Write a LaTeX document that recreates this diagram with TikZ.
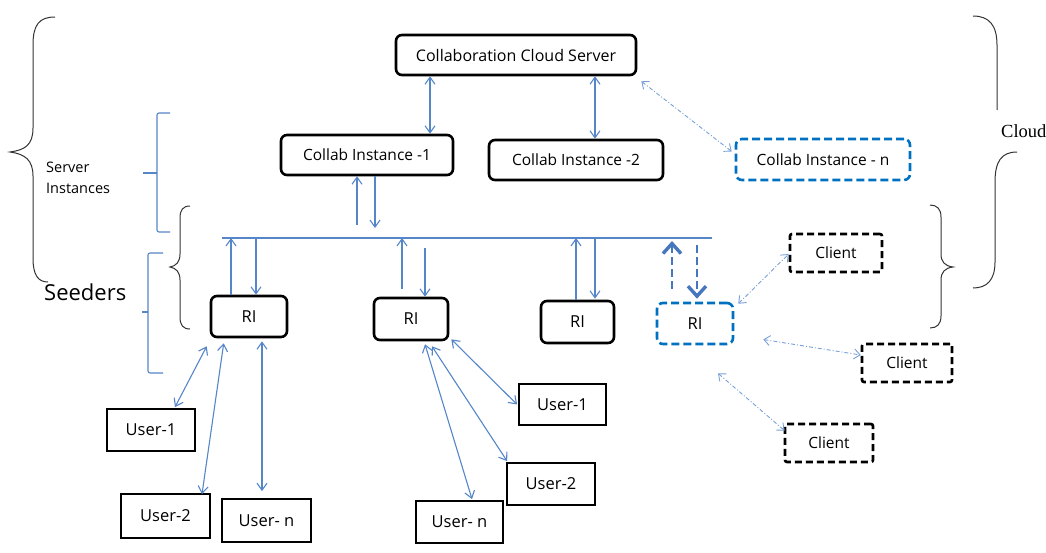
\documentclass[tikz,border=0pt]{standalone}
\usepackage{fontspec}
\setmainfont{Open Sans}
\newfontfamily\serifcloud{Liberation Serif}
\usetikzlibrary{arrows.meta}
\definecolor{lblue}{RGB}{84,134,200}
\definecolor{dblue}{RGB}{0,112,192}
\definecolor{mblue}{RGB}{70,118,190}
\definecolor{pblue}{RGB}{120,160,215}
\tikzset{
  solidbox/.style={draw=black, line width=2.6pt, rounded corners=6pt, fill=white, inner sep=0pt, font=\fontsize{15.5}{17}\selectfont},
  bluebox/.style={draw=dblue, line width=2.6pt, rounded corners=6pt, dash pattern=on 8pt off 4pt, inner sep=0pt, font=\fontsize{15.5}{17}\selectfont},
  clientbox/.style={draw=black, line width=2.6pt, rounded corners=2pt, dash pattern=on 7pt off 4pt, inner sep=0pt, font=\fontsize{15.5}{17}\selectfont},
  userbox/.style={draw=black, line width=1.8pt, inner sep=0pt, font=\fontsize{16.5}{18}\selectfont},
  arr/.style={draw=lblue, line width=1.1pt, -{Straight Barb[length=7pt,width=10pt]}},
  biarr/.style={draw=lblue, line width=1.1pt, {Straight Barb[length=7pt,width=10pt]}-{Straight Barb[length=7pt,width=10pt]}},
  dotarr/.style={draw=pblue, line width=0.9pt, dash pattern=on 4pt off 2pt on 1pt off 2pt, {Straight Barb[length=6pt,width=10pt]}-{Straight Barb[length=6pt,width=10pt]}},
  thickarr/.style={draw=mblue, line width=2.6pt, dash pattern=on 8pt off 4pt, -{Straight Barb[length=10pt,width=18pt,line width=3.4pt]}},
  bus/.style={draw=lblue, line width=1.2pt},
  bracket/.style={draw=lblue, line width=1.1pt, rounded corners=2pt},
  brace/.style={draw=black!80, line width=1pt},
}
\begin{document}
\begin{tikzpicture}[x=1pt,y=-1pt]
\useasboundingbox (0,0) rectangle (1046,552);

% boxes
\node[solidbox, minimum width=240pt, minimum height=40pt, font=\fontsize{16}{18}\selectfont] (CCS) at (516,55) {Collaboration Cloud Server};
\node[solidbox, minimum width=172pt, minimum height=40pt] (CI1) at (367,155) {Collab Instance -1};
\node[solidbox, minimum width=174pt, minimum height=40pt] (CI2) at (576,160) {Collab Instance -2};
\node[bluebox, minimum width=174pt, minimum height=41pt] (CIn) at (823,159.5) {Collab Instance - n};

\node[solidbox, minimum width=76pt, minimum height=41pt, font=\fontsize{16.5}{18}\selectfont] (RI1) at (249,316.5) {RI};
\node[solidbox, minimum width=74pt, minimum height=42pt, font=\fontsize{16.5}{18}\selectfont] (RI2) at (411,319) {RI};
\node[solidbox, minimum width=73pt, minimum height=42pt, font=\fontsize{16.5}{18}\selectfont] (RI3) at (577.5,322) {RI};
\node[bluebox, minimum width=76pt, minimum height=41pt, font=\fontsize{16.5}{18}\selectfont] (RI4) at (695,323.5) {RI};

\node[clientbox, minimum width=92pt, minimum height=38pt] (CL1) at (836,253) {Client};
\node[clientbox, minimum width=90pt, minimum height=38pt] (CL2) at (907,363) {Client};
\node[clientbox, minimum width=88pt, minimum height=38pt] (CL3) at (829,443) {Client};

\node[userbox, minimum width=88pt, minimum height=42pt] (U1L) at (151,430) {User-1};
\node[userbox, minimum width=89pt, minimum height=44pt] (U2L) at (165.5,516) {User-2};
\node[userbox, minimum width=89pt, minimum height=43pt] (UnL) at (266.5,520.5) {User- n};
\node[userbox, minimum width=87pt, minimum height=41pt] (U1M) at (562.5,404.5) {User-1};
\node[userbox, minimum width=88pt, minimum height=42pt] (U2M) at (551,484) {User-2};
\node[userbox, minimum width=87pt, minimum height=42pt] (UnM) at (459.5,522) {User- n};

% labels
\node[font=\fontsize{14.5}{21}\selectfont, align=left, anchor=west, inner sep=0pt] (SI) at (46,178) {Server\\Instances};
\node[font=\fontsize{22}{24}\selectfont, anchor=west, inner sep=0pt] (SD) at (44,292) {Seeders};
\node[font=\serifcloud\fontsize{18.5}{20}\selectfont, anchor=west, inner sep=0pt] (CLD) at (1001,131) {Cloud};

% cloud server connections
\draw[biarr] ([xshift=-86pt]CCS.south) -- ([xshift=-86pt]CCS.south |- CI1.north);
\draw[biarr] ([xshift=79pt]CCS.south) -- ([xshift=79pt]CCS.south |- CI2.north);
\draw[dotarr] ([shift={(4,5)}]CCS.south east) -- ([shift={(-3,-8)}]CIn.west);

% bus
\coordinate (busL) at (222,238);
\coordinate (busR) at (712,238);
\draw[bus] (busL) -- (busR);

% instance 1 to bus
\draw[arr] ([xshift=-10pt]CI1.south |- 0,225) -- ([xshift=-10pt]CI1.south);
\draw[arr] ([xshift=8pt]CI1.south) -- ([xshift=8pt]CI1.south |- 0,228);

% RI to bus
\draw[arr] ([xshift=-18pt]RI1.north) -- ([xshift=-18pt]RI1.north |- busL);
\draw[arr] ([xshift=7pt]RI1.north |- busL) -- ([xshift=7pt]RI1.north);
\draw[arr] ([shift={(-9,-8)}]RI2.north) -- ([xshift=-9pt]RI2.north |- busL);
\draw[arr] ([xshift=14pt]RI2.north |- 0,248) -- ([xshift=14pt]RI2.north);
\draw[arr] ([xshift=-1.5pt]RI3.north) -- ([xshift=-1.5pt]RI3.north |- busL);
\draw[arr] ([xshift=17.5pt]RI3.north |- busL) -- ([shift={(17.5,-1)}]RI3.north);
\draw[thickarr] ([shift={(-23,-13)}]RI4.north) -- ([xshift=-23pt]RI4.north |- 0,241);
\draw[thickarr] ([xshift=2pt]RI4.north |- 0,245) -- ([shift={(2,-3)}]RI4.north);

% clients
\draw[dotarr] ([shift={(4,2)}]RI4.north east) -- ([shift={(0,1)}]CL1.west);
\draw[dotarr] ([shift={(29,16)}]RI4.east) -- ([shift={(0,-8)}]CL2.west);
\draw[dotarr] ([shift={(23,28)}]RI4.south) -- ([shift={(1,8)}]CL3.north west);

% users left
\draw[biarr] ([shift={(-3,8)}]RI1.south west) -- ([shift={(24,-1)}]U1L.north);
\draw[biarr] ([shift={(14,5)}]RI1.south west) -- ([shift={(36.5,1)}]U2L.north);
\draw[biarr] ([shift={(13,3)}]RI1.south) -- ([shift={(-4.5,-7)}]UnL.north);

% users middle
\draw[biarr] ([shift={(14,3)}]RI2.south) -- ([shift={(12.5,-1)}]UnM.north);
\draw[biarr] ([shift={(21,5)}]RI2.south) -- ([shift={(1,-1)}]U2M.north west);
\draw[biarr] ([shift={(2,-2)}]RI2.south east) -- ([shift={(-1,0)}]U1M.west);

% left big brace
\draw[brace] (55,17) .. controls (39,17) and (33,25) .. (33,45) -- (33,128)
  .. controls (33,145) and (25,150) .. (10,152) .. controls (25,154) and (33,160) .. (33,176)
  -- (33,258) .. controls (33,275) and (38,282) .. (48,282);
% left small brace
\draw[brace] (190,206) .. controls (183,206) and (180,210) .. (180,218) -- (180,254)
  .. controls (180,262) and (176,266) .. (170,267) .. controls (176,268) and (180,272) .. (180,280)
  -- (180,317) .. controls (180,325) and (183,329) .. (190,329);
% right small brace
\draw[brace] (930,205) .. controls (937,205) and (941,209) .. (941,217) -- (941,254)
  .. controls (941,262) and (945,266) .. (953,267) .. controls (945,268) and (941,272) .. (941,280)
  -- (941,316) .. controls (941,324) and (937,328) .. (930,328);
% right big brace (split by label)
\draw[brace] (973,16) .. controls (989,16) and (997,25) .. (997,45) -- (997,110);
\draw[brace] (1017,152) .. controls (1001,152) and (995,162) .. (995,182) -- (995,262)
  .. controls (995,280) and (987,288) .. (973,288);

% blue brackets
\draw[bracket] (170,113) -- (157,113) -- (157,232) -- (170,232);
\draw[bracket] (157,173) -- (143,173);
\draw[bracket] (163,253) -- (148,253) -- (148,373) -- (163,373);
\draw[bracket] (148,312) -- (142,312);
\end{tikzpicture}
\end{document}
